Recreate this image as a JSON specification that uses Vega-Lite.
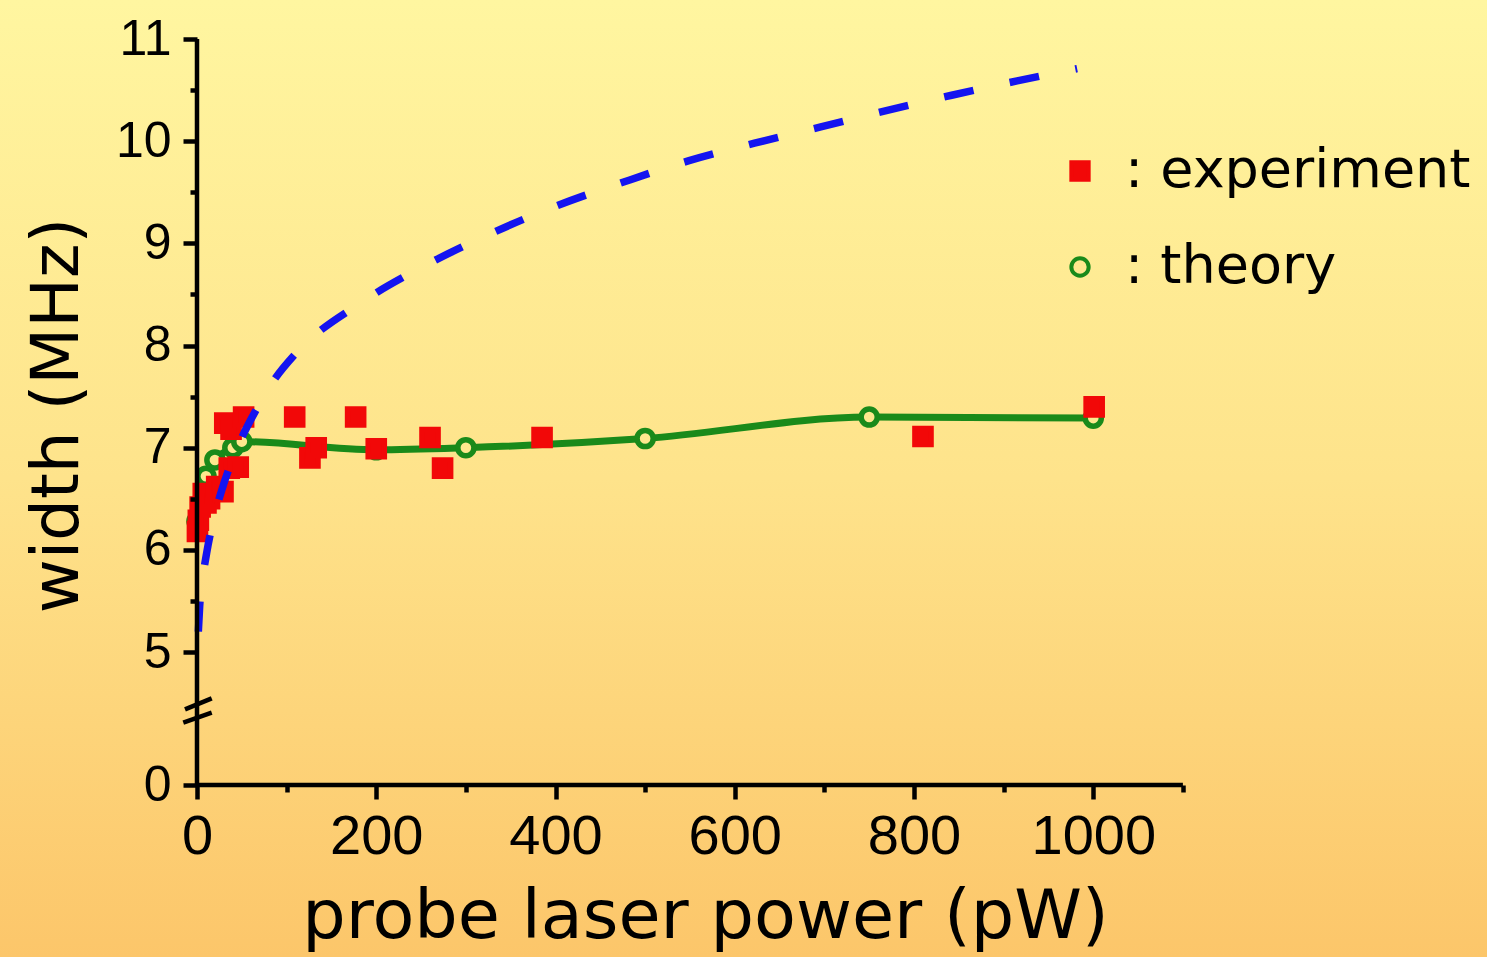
{
  "$schema": "https://vega.github.io/schema/vega-lite/v6.json",
  "width": 1487,
  "height": 957,
  "autosize": {"type": "none"},
  "padding": 0,
  "background": "#FEE08A",
  "config": {
    "view": {"stroke": null},
    "axis": {"tickWidth": 4.5, "tickColor": "black", "labelFont": "Liberation Sans", "labelColor": "black", "titleColor": "black", "titleFontWeight": "normal", "grid": false, "domain": false}
  },
  "layer": [
    {
      "data": {"values": [{}]},
      "mark": {
        "type": "rect",
        "color": {
          "gradient": "linear", "x1": 0, "y1": 0, "x2": 0, "y2": 1,
          "stops": [
            {"offset": 0, "color": "#FFF6A0"},
            {"offset": 0.5, "color": "#FEE38B"},
            {"offset": 1, "color": "#FCC66A"}
          ]
        }
      },
      "encoding": {
        "x": {"value": 0}, "x2": {"value": "width"},
        "y": {"value": 0}, "y2": {"value": "height"}
      }
    },
    {
      "data": {"values": [
        {"series": "theory", "power": 0, "width": 6.28},
        {"series": "theory", "power": 10, "width": 6.72},
        {"series": "theory", "power": 20, "width": 6.88},
        {"series": "theory", "power": 40, "width": 7.0},
        {"series": "theory", "power": 50, "width": 7.06},
        {"series": "theory", "power": 200, "width": 6.98},
        {"series": "theory", "power": 300, "width": 7.0},
        {"series": "theory", "power": 500, "width": 7.09},
        {"series": "theory", "power": 750, "width": 7.3},
        {"series": "theory", "power": 1000, "width": 7.29},
        {"series": "experiment", "power": 0.5, "width": 6.18},
        {"series": "experiment", "power": 1.5, "width": 6.29},
        {"series": "experiment", "power": 3.5, "width": 6.42},
        {"series": "experiment", "power": 7, "width": 6.55},
        {"series": "experiment", "power": 10, "width": 6.46},
        {"series": "experiment", "power": 14, "width": 6.5},
        {"series": "experiment", "power": 22, "width": 6.62},
        {"series": "experiment", "power": 29, "width": 6.57},
        {"series": "experiment", "power": 36, "width": 6.8},
        {"series": "experiment", "power": 46, "width": 6.81},
        {"series": "experiment", "power": 31, "width": 7.24},
        {"series": "experiment", "power": 38, "width": 7.18},
        {"series": "experiment", "power": 52, "width": 7.3},
        {"series": "experiment", "power": 109, "width": 7.3},
        {"series": "experiment", "power": 126, "width": 6.9},
        {"series": "experiment", "power": 133, "width": 7.0},
        {"series": "experiment", "power": 177, "width": 7.3},
        {"series": "experiment", "power": 200, "width": 6.99},
        {"series": "experiment", "power": 260, "width": 7.1},
        {"series": "experiment", "power": 274, "width": 6.8},
        {"series": "experiment", "power": 385, "width": 7.1},
        {"series": "experiment", "power": 810, "width": 7.11},
        {"series": "experiment", "power": 1001, "width": 7.4}
      ]},
      "layer": [
        {
          "transform": [{"filter": "datum.series === 'theory'"}],
          "mark": {"type": "line", "color": "#1A8A1A", "strokeWidth": 7, "interpolate": "monotone"},
          "encoding": {
            "x": {"field": "power", "type": "quantitative", "scale": {"domain": [-219.8, 1439.3], "nice": false, "zero": false}},
            "y": {"field": "width", "type": "quantitative", "scale": {"domain": [2.015, 11.382], "nice": false, "zero": false}}
          }
        },
        {
          "mark": {"type": "point", "size": 260, "strokeWidth": 5.5, "opacity": 1, "filled": true},
          "encoding": {
            "x": {
              "field": "power", "type": "quantitative",
              "scale": {"domain": [-219.8, 1439.3], "nice": false, "zero": false},
              "axis": {
                "offset": -172, "domain": false, "grid": false, "zindex": 1,
                "values": [0, 100, 200, 300, 400, 500, 600, 700, 800, 900, 1000, 1100],
                "tickColor": "black", "tickWidth": 4.5,
                "tickSize": {"condition": {"test": "datum.value % 200 === 0 && datum.value <= 1000", "value": 14}, "value": 7},
                "labelExpr": "datum.value % 200 === 0 && datum.value <= 1000 ? format(datum.value, 'd') : ''",
                "labelFont": "Liberation Sans", "labelFontSize": 56, "labelColor": "black", "labelPadding": 10,
                "labelOverlap": false, "labelFlush": false, "labelBound": false,
                "title": "probe laser power (pW)", "titleFont": "DejaVu Sans", "titleFontSize": 68.5,
                "titleFontWeight": "normal", "titleColor": "black", "titleX": 705, "titleY": 152,
                "titleBaseline": "alphabetic", "titleAlign": "center"
              }
            },
            "y": {
              "field": "width", "type": "quantitative",
              "scale": {"domain": [2.015, 11.382], "nice": false, "zero": false},
              "axis": {
                "offset": -197, "domain": false, "grid": false, "zindex": 1,
                "values": [3.698, 5, 5.5, 6, 6.5, 7, 7.5, 8, 8.5, 9, 9.5, 10, 10.5, 11],
                "tickColor": "black", "tickWidth": 4.5,
                "tickSize": {"condition": {"test": "datum.value % 1 === 0 || datum.value < 4", "value": 14}, "value": 7},
                "labelExpr": "datum.value < 4 ? '0' : (datum.value % 1 === 0 ? format(datum.value, 'd') : '')",
                "labelFont": "Liberation Sans", "labelFontSize": 50, "labelColor": "black", "labelPadding": 12,
                "labelOverlap": false, "labelFlush": false, "labelBound": false,
                "title": "width (MHz)", "titleFont": "DejaVu Sans", "titleFontSize": 66,
                "titleFontWeight": "normal", "titleColor": "black", "titleX": -140, "titleY": 415,
                "titleAngle": 270, "titleBaseline": "middle", "titleAlign": "center"
              }
            },
            "shape": {
              "field": "series", "type": "nominal",
              "scale": {"domain": ["experiment", "theory"], "range": ["square", "circle"]},
              "legend": {"orient": "none", "legendX": 1053, "legendY": 144, "title": null, "labelExpr": "': ' + datum.label", "labelFont": "DejaVu Sans", "labelFontSize": 54, "labelColor": "black", "symbolSize": 300, "symbolStrokeWidth": 4, "rowPadding": 42, "labelOffset": 18, "padding": 0, "labelLimit": 0}
            },
            "fill": {
              "field": "series", "type": "nominal",
              "scale": {"domain": ["experiment", "theory"], "range": ["#F20808", "#FEE88E"]},
              "legend": {"orient": "none", "legendX": 1053, "legendY": 144, "title": null, "labelExpr": "': ' + datum.label", "labelFont": "DejaVu Sans", "labelFontSize": 54, "labelColor": "black", "symbolSize": 300, "symbolStrokeWidth": 4, "rowPadding": 42, "labelOffset": 18, "padding": 0, "labelLimit": 0}
            },
            "stroke": {
              "field": "series", "type": "nominal",
              "scale": {"domain": ["experiment", "theory"], "range": ["#F20808", "#1A8A1A"]},
              "legend": {"orient": "none", "legendX": 1053, "legendY": 144, "title": null, "labelExpr": "': ' + datum.label", "labelFont": "DejaVu Sans", "labelFontSize": 54, "labelColor": "black", "symbolSize": 300, "symbolStrokeWidth": 4, "rowPadding": 42, "labelOffset": 18, "padding": 0, "labelLimit": 0}
            }
          }
        }
      ]
    },
    {
      "data": {"values": [
        {"power": 1.5, "width": 5.2}, {"power": 3, "width": 5.45}, {"power": 6, "width": 5.7},
        {"power": 10.8, "width": 5.97}, {"power": 20, "width": 6.35}, {"power": 30, "width": 6.65},
        {"power": 45, "width": 7.0}, {"power": 66.6, "width": 7.38}, {"power": 85, "width": 7.65},
        {"power": 111, "width": 7.93}, {"power": 183, "width": 8.42}, {"power": 256, "width": 8.79},
        {"power": 329, "width": 9.1}, {"power": 402, "width": 9.37}, {"power": 476, "width": 9.6},
        {"power": 549, "width": 9.81}, {"power": 622, "width": 9.98}, {"power": 696, "width": 10.14},
        {"power": 769, "width": 10.3}, {"power": 842, "width": 10.45}, {"power": 915, "width": 10.59},
        {"power": 982, "width": 10.71}
      ]},
      "mark": {"type": "line", "color": "#1414F0", "strokeWidth": 7.5, "strokeDash": [30, 37], "interpolate": "monotone"},
      "encoding": {
        "x": {"field": "power", "type": "quantitative", "scale": {"domain": [-219.8, 1439.3], "nice": false, "zero": false}},
        "y": {"field": "width", "type": "quantitative", "scale": {"domain": [2.015, 11.382], "nice": false, "zero": false}}
      }
    },
    {
      "data": {"values": [{}]},
      "mark": {"type": "rule", "color": "black", "strokeWidth": 4.5},
      "encoding": {
        "x": {"datum": 0, "type": "quantitative"},
        "x2": {"datum": 1100},
        "y": {"datum": 3.698, "type": "quantitative"}
      }
    },
    {
      "data": {"values": [{}]},
      "mark": {"type": "rule", "color": "black", "strokeWidth": 4.5},
      "encoding": {
        "x": {"datum": 0, "type": "quantitative"},
        "y": {"datum": 3.698, "type": "quantitative"},
        "y2": {"datum": 11}
      }
    },
    {
      "data": {"values": [{}]},
      "mark": {"type": "rule", "color": "black", "strokeWidth": 4.5},
      "encoding": {
        "x": {"datum": -13.4, "type": "quantitative"},
        "x2": {"datum": 16.4},
        "y": {"datum": 4.439, "type": "quantitative"},
        "y2": {"datum": 4.547}
      }
    },
    {
      "data": {"values": [{}]},
      "mark": {"type": "rule", "color": "black", "strokeWidth": 4.5},
      "encoding": {
        "x": {"datum": -15.3, "type": "quantitative"},
        "x2": {"datum": 16.4},
        "y": {"datum": 4.308, "type": "quantitative"},
        "y2": {"datum": 4.406}
      }
    }
  ]
}
